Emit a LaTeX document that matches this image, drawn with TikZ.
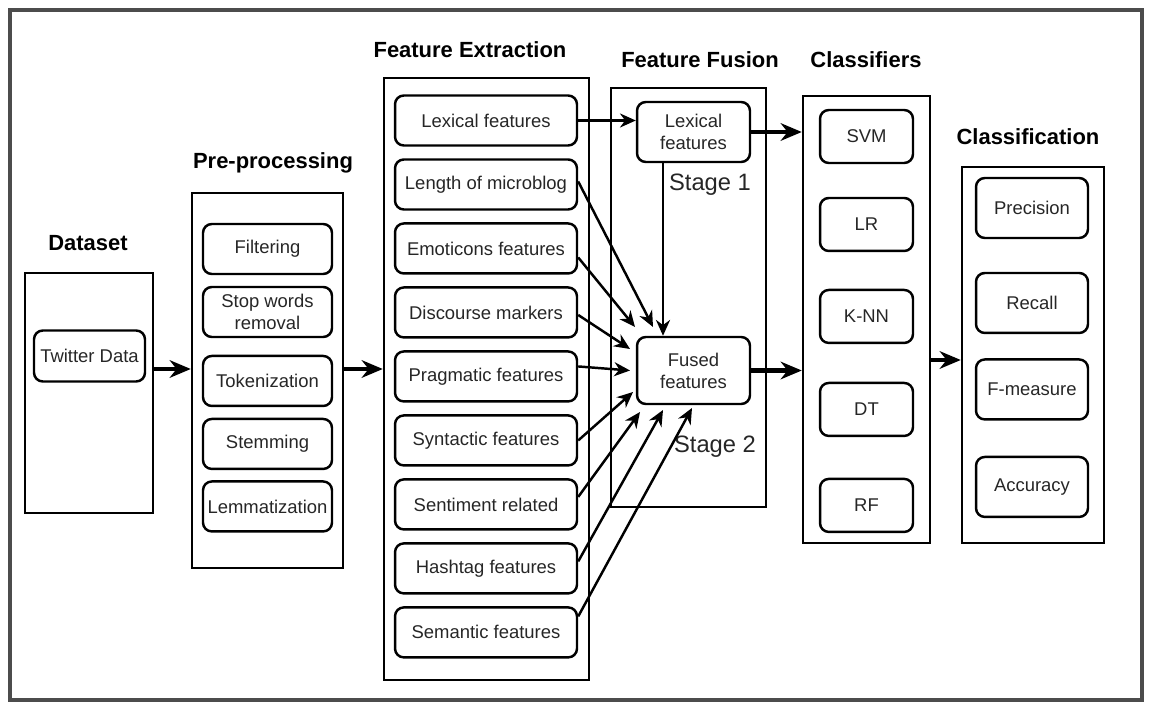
\documentclass[tikz,border=0pt]{standalone}
\usepackage{fontspec}
\setmainfont{Liberation Sans}
\usetikzlibrary{arrows.meta}
\tikzstyle{title} = [font=\fontsize{12.5}{14}\selectfont\bfseries]
\tikzstyle{group} = [draw, line width=1.4pt, inner sep=0pt]
\tikzstyle{item} = [draw, rounded corners=5pt, line width=1.4pt, align=center, inner sep=1pt, text=black!85, font=\fontsize{10.5}{12.5}\selectfont]
\tikzstyle{pp} = [item, minimum width=2.58cm, minimum height=1cm]
\tikzstyle{fx} = [item, minimum width=3.64cm, minimum height=1cm]
\tikzstyle{fu} = [item, minimum width=2.26cm]
\tikzstyle{cl} = [item, minimum width=1.86cm, minimum height=1.06cm]
\tikzstyle{ev} = [item, minimum width=2.24cm, minimum height=1.2cm]
\tikzstyle{stage} = [text=black!85, font=\fontsize{13.5}{15}\selectfont]
\tikzstyle{flow} = [-{Stealth[length=9pt,width=8pt]}, line width=1.4pt]
\tikzstyle{bigflow} = [-{Stealth[length=12pt,width=10pt]}, line width=2.3pt]

\begin{document}
\begin{tikzpicture}[x=0.02cm,y=-0.02cm,node distance=1.28cm]
	\useasboundingbox (0,0) rectangle (1149,702);
	\draw [black!70,line width=1.8pt] (10,10) rectangle (1142,700);

	% the six stage boxes and their titles
	\node [group,minimum width=2.56cm,minimum height=4.8cm] (dataset) at (89,393) {};
	\node [group,minimum width=3.02cm,minimum height=7.5cm] (pre) at (267.5,380.5) {};
	\node [group,minimum width=4.1cm,minimum height=12.04cm] (fe) at (486.5,379) {};
	\node [group,minimum width=3.1cm,minimum height=8.38cm] (ff) at (688.5,297.5) {};
	\node [group,minimum width=2.54cm,minimum height=8.94cm] (clf) at (866.5,319.5) {};
	\node [group,minimum width=2.84cm,minimum height=7.52cm] (res) at (1033,355) {};
	\node [title] (tdata) at (88,243) {Dataset};
	\node [title] (tpre) at (273,163) {Pre-processing};
	\node [title] (tfe) at (470,50) {Feature Extraction};
	\node [title] (tff) at (700,60) {Feature Fusion};
	\node [title] (tclf) at (866,60) {Classifiers};
	\node [title] (tres) at (1028,137) {Classification};

	% dataset
	\node [item,minimum width=2.22cm,minimum height=1.02cm] (twitter) at (89.5,356) {Twitter Data};

	% pre-processing steps
	\node [pp] (filter) at (267.5,249) {Filtering};
	\node [pp,below of=filter,node distance=1.26cm] (stop) {Stop words\\removal};
	\node [pp,below of=stop,node distance=1.38cm] (token) {Tokenization};
	\node [pp,below of=token,node distance=1.26cm] (stem) {Stemming};
	\node [pp,below of=stem,node distance=1.25cm] (lemma) {Lemmatization};

	% feature extraction
	\node [fx] (lex) at (486,120.5) {Lexical features};
	\node [fx,below of=lex] (len) {Length of microblog};
	\node [fx,below of=len] (emo) {Emoticons features};
	\node [fx,below of=emo] (disc) {Discourse markers};
	\node [fx,below of=disc] (prag) {Pragmatic features};
	\node [fx,below of=prag] (syn) {Syntactic features};
	\node [fx,below of=syn] (senti) {Sentiment related};
	\node [fx,below of=senti] (hash) {Hashtag features};
	\node [fx,below of=hash] (sem) {Semantic features};

	% feature fusion
	\node [fu,minimum height=1.2cm] (lexf) at (693.5,132) {Lexical\\features};
	\node [fu,minimum height=1.34cm] (fused) at (693.5,370.5) {Fused\\features};
	\node [stage] (s1) at (710,185) {Stage 1};
	\node [stage] (s2) at (715,447) {Stage 2};

	% classifiers
	\node [cl] (svm) at (866.5,136.5) {SVM};
	\node [cl,below of=svm,node distance=1.76cm] (lr) {LR};
	\node [cl,below of=lr,node distance=1.84cm] (knn) {K-NN};
	\node [cl,below of=knn,node distance=1.86cm] (dt) {DT};
	\node [cl,below of=dt,node distance=1.92cm] (rf) {RF};

	% classification measures
	\node [ev] (prec) at (1032,208) {Precision};
	\node [ev,below of=prec,node distance=1.9cm] (rec) {Recall};
	\node [ev,below of=rec,node distance=1.73cm] (fm) {F-measure};
	\node [ev,below of=fm,node distance=1.95cm] (acc) {Accuracy};

	% main flow between the stages
	\coordinate (d1) at ([yshift=0.48cm]dataset.east);
	\coordinate (p1) at ([yshift=0.23cm]pre.east);
	\coordinate (c1) at ([yshift=-0.81cm]clf.east);
	\draw [bigflow] (d1) -- (d1 -| pre.west);
	\draw [bigflow] (p1) -- (p1 -| fe.west);
	\draw [bigflow] (lexf.east) -- (lexf.east -| clf.west);
	\draw [bigflow] (fused.east) -- (fused.east -| clf.west);
	\draw [bigflow] (c1) -- (c1 -| res.west);

	% stage 1
	\draw [flow] (lex.east) -- (lex.east -| lexf.west);
	\draw [flow] ([xshift=-0.61cm]lexf.south) -- ([xshift=-0.61cm]fused.north);

	% stage 2
	\draw [flow] ([yshift=0.06cm]len.east) -- ([shift={(-0.81cm,0.87cm)}]fused.center);
	\draw [flow] ([yshift=-0.18cm]emo.east) -- ([shift={(-1.17cm,0.87cm)}]fused.center);
	\draw [flow] ([yshift=-0.05cm]disc.east) -- ([shift={(-1.27cm,0.43cm)}]fused.center);
	\draw [flow] ([yshift=0.2cm]prag.east) -- ([shift={(-1.27cm,0cm)}]fused.center);
	\draw [flow] (syn.east) -- ([shift={(-1.21cm,-0.43cm)}]fused.center);
	\draw [flow] ([yshift=0.15cm]senti.east) -- ([shift={(-1.07cm,-0.83cm)}]fused.center);
	\draw [flow] ([yshift=0.14cm]hash.east) -- ([shift={(-0.61cm,-0.79cm)}]fused.center);
	\draw [flow] ([yshift=0.32cm]sem.east) -- ([shift={(-0.03cm,-0.75cm)}]fused.center);

\end{tikzpicture}
\end{document}
